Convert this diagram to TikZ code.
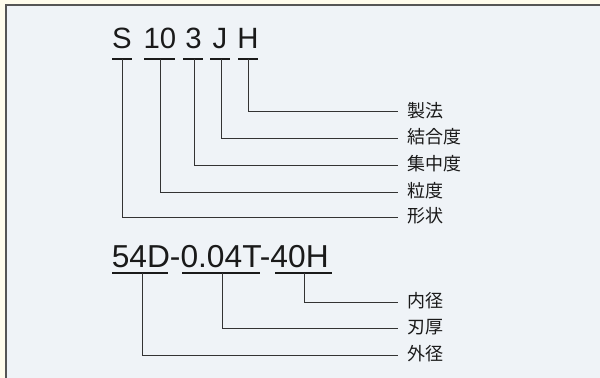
\documentclass[tikz,border=0pt]{standalone}
\usepackage{fontspec}
\setmainfont{Liberation Sans}
\newfontfamily\jp{Noto Sans CJK JP}
\definecolor{cream}{HTML}{FFFCEC}
\definecolor{boxfill}{HTML}{EFF3F7}
\definecolor{boxline}{HTML}{555555}
\definecolor{ink}{HTML}{1A1A1A}
\definecolor{wire}{HTML}{333333}
\tikzset{
  code/.style={inner sep=0pt, anchor=base, text=ink, font=\fontsize{22pt}{24pt}\selectfont},
  codeb/.style={inner sep=0pt, anchor=base west, text=ink, font=\fontsize{23.8pt}{26pt}\selectfont},
  lab/.style={anchor=west, inner xsep=6.75pt, inner ysep=0pt, text=ink, font=\jp\fontsize{13.5pt}{15pt}\selectfont},
  uline/.style={draw=ink, line width=1.9pt},
  wireline/.style={draw=wire, line width=0.75pt},
}
\begin{document}
\begin{tikzpicture}[x=0.75pt,y=-0.75pt]
\useasboundingbox (0,0) rectangle (600,378);
\clip (0,0) rectangle (600,378);
\fill[cream] (0,0) rectangle (600,378);
\draw[boxline, line width=1.5pt, fill=boxfill] (5.5,5.5) rectangle (620,400);
% top code
\node[code] (cS) at (122,48.5) {S};
\node[code] (c10) at (160,48.5) {10};
\node[code] (c3) at (193.5,48.5) {3};
\node[code] (cJ) at (220,48.5) {J};
\node[code] (cH) at (248,48.5) {H};
\draw[uline] (112,59) -- (132,59);
\draw[uline] (144,59) -- (175,59);
\draw[uline] (183,59) -- (203,59);
\draw[uline] (210,59) -- (230,59);
\draw[uline] (238,59) -- (258,59);
\coordinate (uS) at (122,59);
\coordinate (u10) at (160,59);
\coordinate (u3) at (194,59);
\coordinate (uJ) at (221,59);
\coordinate (uH) at (248,59);
% labels
\node[lab] (l1) at (398,111) {製法};
\node[lab] (l2) at (398,137) {結合度};
\node[lab] (l3) at (398,164) {集中度};
\node[lab] (l4) at (398,191) {粒度};
\node[lab] (l5) at (398,216) {形状};
\draw[wireline] (uH) |- (398,112);
\draw[wireline] (uJ) |- (398,138);
\draw[wireline] (u3) |- (398,165);
\draw[wireline] (u10) |- (398,192);
\draw[wireline] (uS) |- (398,217);
% bottom code
\node[codeb] (cb) at (111.5,267) {54D-0.04T-40H};
\draw[uline] (112,273) -- (168,273);
\draw[uline] (182,273) -- (260,273);
\draw[uline] (275,273) -- (332,273);
\coordinate (v1) at (142,273);
\coordinate (v2) at (222,273);
\coordinate (v3) at (304,273);
\node[lab] (m1) at (398,301) {内径};
\node[lab] (m2) at (398,327) {刃厚};
\node[lab] (m3) at (398,354) {外径};
\draw[wireline] (v3) |- (398,302);
\draw[wireline] (v2) |- (398,328);
\draw[wireline] (v1) |- (398,355);
\end{tikzpicture}
\end{document}
